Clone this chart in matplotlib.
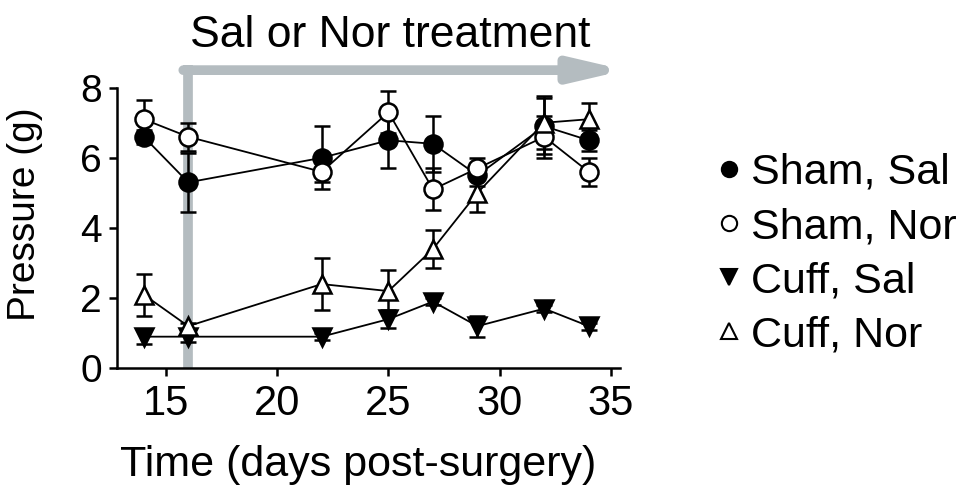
import matplotlib
matplotlib.use('Agg')
import matplotlib.pyplot as plt
from matplotlib.lines import Line2D

plt.rcParams['font.family'] = ['Liberation Sans', 'DejaVu Sans']

days = [14, 16, 22, 25, 27, 29, 32, 34]

sham_sal = [6.6, 5.3, 6.0, 6.5, 6.4, 5.5, 6.9, 6.5]
sham_sal_err = [0.2, 0.85, 0.9, 0.8, 0.8, 0.3, 0.8, 0.3]

sham_nor = [7.1, 6.6, 5.6, 7.3, 5.1, 5.7, 6.6, 5.6]
sham_nor_err = [0.55, 0.4, 0.3, 0.6, 0.6, 0.3, 0.6, 0.4]

cuff_sal = [0.9, 0.9, 0.9, 1.4, 1.9, 1.2, 1.7, 1.2]
cuff_sal_err = [0.2, 0.15, 0.1, 0.25, 0.1, 0.3, 0.1, 0.1]

cuff_nor = [2.1, 1.2, 2.4, 2.2, 3.4, 5.0, 7.0, 7.1]
cuff_nor_err = [0.6, 0.1, 0.75, 0.6, 0.55, 0.55, 0.75, 0.45]

treat_start = 16
arrow_y = 8.5
gray = '#b4bcc0'

fig = plt.figure(figsize=(9.67, 5.01), dpi=100)
ax = fig.add_axes([0.121, 0.265, 0.52, 0.56])

# treatment arrow
ax.plot([treat_start, treat_start], [0, arrow_y + 0.14], color=gray, lw=7,
        solid_capstyle='butt', clip_on=False, zorder=1)
ax.annotate('', xy=(35.65, arrow_y), xytext=(treat_start - 0.22, arrow_y),
            arrowprops=dict(arrowstyle='-|>,head_length=3.0,head_width=0.7', color=gray,
                            lw=7, shrinkA=0, shrinkB=0),
            annotation_clip=False, zorder=1)
ax.text(25.1, 9.5, 'Sal or Nor treatment', ha='center', va='center', fontsize=32)

series = [
    (sham_sal, sham_sal_err, 'o', 'black', 'Sham, Sal'),
    (sham_nor, sham_nor_err, 'o', 'white', 'Sham, Nor'),
    (cuff_sal, cuff_sal_err, 'v', 'black', 'Cuff, Sal'),
    (cuff_nor, cuff_nor_err, '^', 'white', 'Cuff, Nor'),
]
handles = []
for vals, err, m, fc, lab in series:
    ax.errorbar(days, vals, yerr=err, marker=m, markersize=13, mfc=fc, mec='black', mew=1.8,
                color='black', lw=1.3, capsize=6, elinewidth=1.8, capthick=1.8, zorder=3)
    handles.append(Line2D([], [], ls='none', marker=m, markersize=11, mfc=fc, mec='black',
                          mew=1.5, label=lab))

ax.set_xlim(12.8, 35.4)
ax.set_ylim(0, 8)
ax.set_xticks([15, 20, 25, 30, 35])
ax.set_yticks([0, 2, 4, 6, 8])
ax.tick_params(width=1.8, length=6)
ax.tick_params(axis='x', labelsize=30, pad=5)
ax.tick_params(axis='y', labelsize=28, pad=5)
ax.spines['top'].set_visible(False)
ax.spines['right'].set_visible(False)
ax.spines['left'].set_linewidth(1.8)
ax.spines['bottom'].set_linewidth(1.8)
ax.set_xlabel('Time (days post-surgery)', fontsize=31)
ax.set_ylabel('Pressure (g)', fontsize=28)
ax.xaxis.set_label_coords(0.48, -0.275)
ax.yaxis.set_label_coords(-0.148, 0.55)

fig.legend(handles=handles, loc='upper left', bbox_to_anchor=(0.741, 0.695), frameon=False,
           fontsize=31, handlelength=0.6, handletextpad=0.2, labelspacing=0.33,
           borderpad=0, borderaxespad=0)

fig.savefig('out.png', dpi=100)
